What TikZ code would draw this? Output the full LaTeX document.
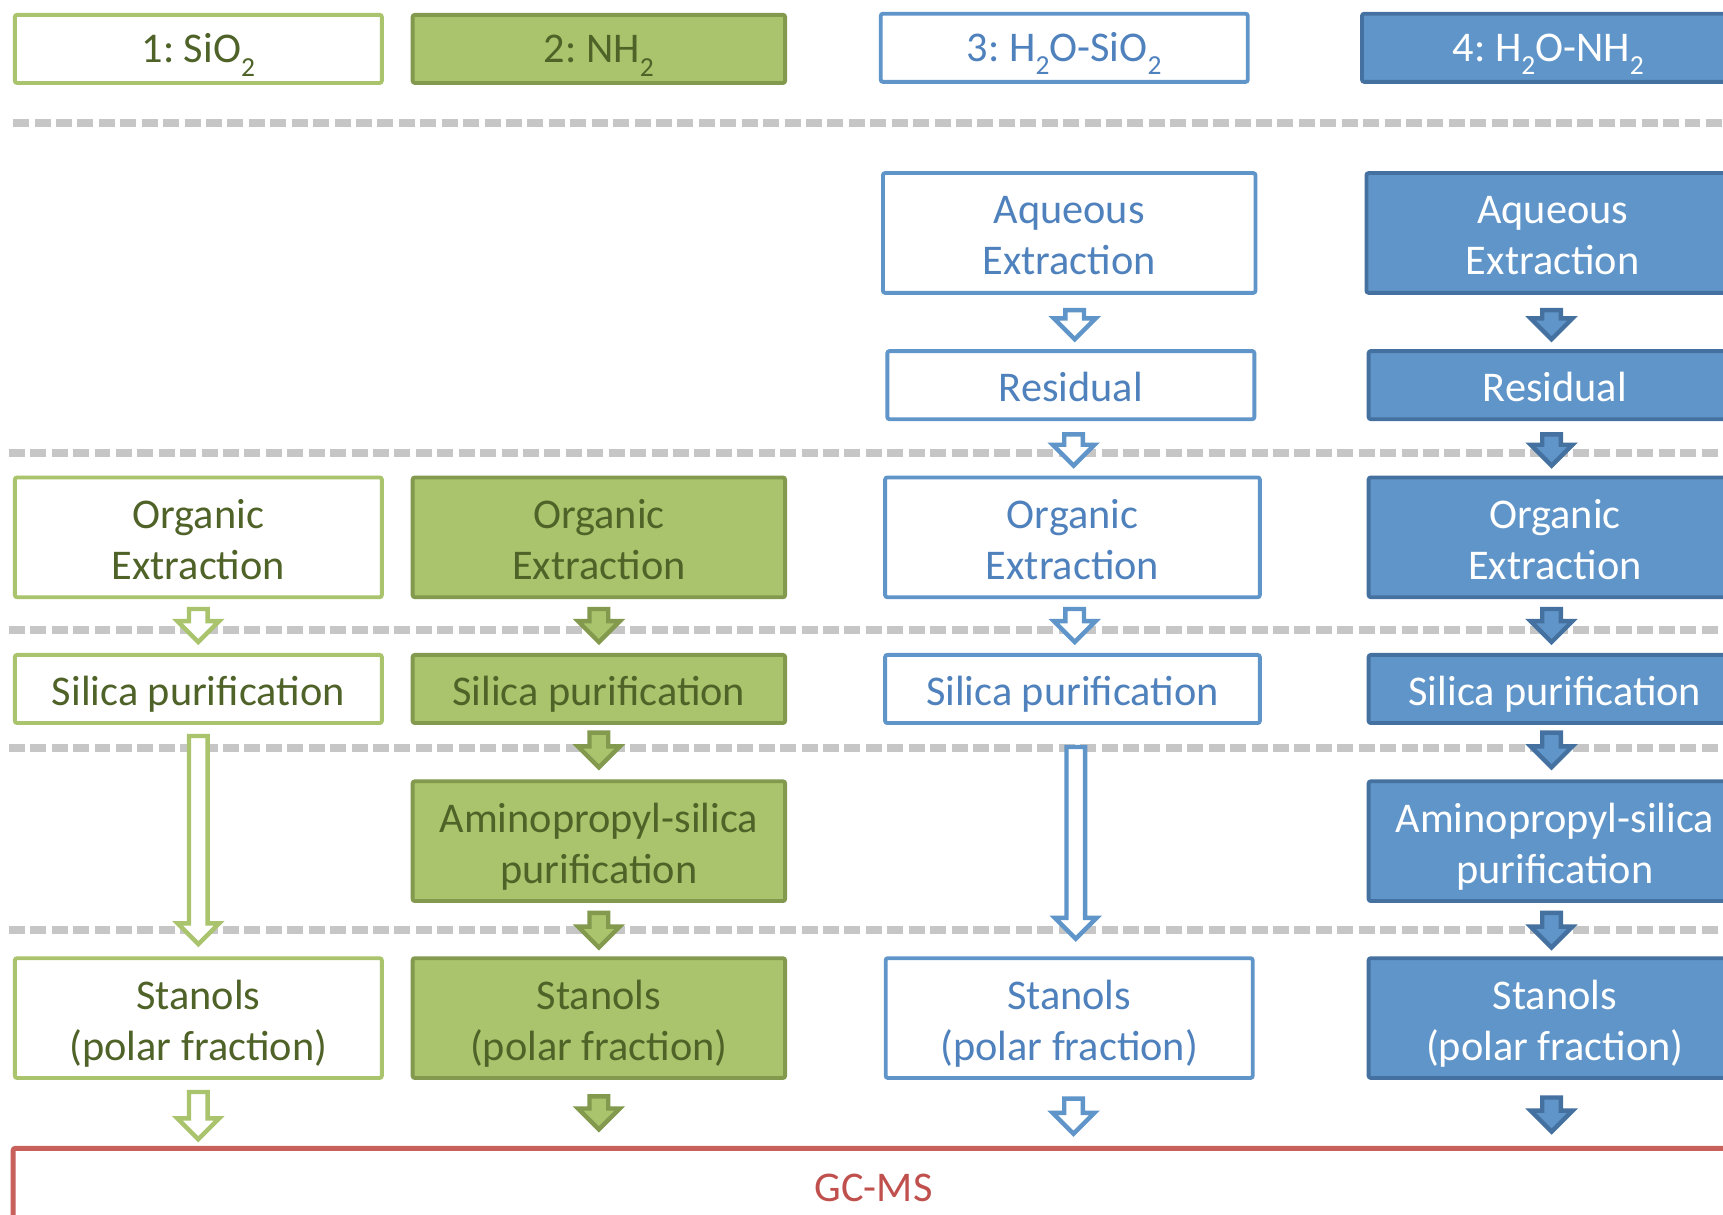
\documentclass[tikz,border=0pt]{standalone}
\usepackage{fontspec}
\setmainfont{Carlito}
\usetikzlibrary{calc}
\frenchspacing
\definecolor{grnL}{HTML}{A9C46C}
\definecolor{grnD}{HTML}{82994E}
\definecolor{txtG}{HTML}{4F6228}
\definecolor{bluL}{HTML}{6095C9}
\definecolor{bluD}{HTML}{4571A0}
\definecolor{txtB}{HTML}{4F81BD}
\definecolor{gcred}{HTML}{C8605C}
\definecolor{gctxt}{HTML}{C0504D}
\definecolor{sepgray}{HTML}{C6C6C6}
\tikzset{
  bx/.style={rectangle, rounded corners=2pt, line width=3.5pt, align=center, inner sep=0pt,
    font=\fontsize{38.5}{46.5}\selectfont},
  c1/.style={bx, draw=grnL, fill=white, text=txtG},
  c2/.style={bx, draw=grnD, fill=grnL, text=txtG},
  c3/.style={bx, draw=bluL, fill=white, text=txtB},
  c4/.style={bx, draw=bluD, fill=bluL, text=white},
  wA/.style={minimum width=334pt},
  wB/.style={minimum width=339pt},
  hS/.style={minimum height=62pt},
  hT/.style={minimum height=109pt},
  a1/.style={draw=grnL, fill=white, line width=4pt},
  a2/.style={draw=grnD, fill=grnL, line width=4pt},
  a3/.style={draw=bluL, fill=white, line width=4pt},
  a4/.style={draw=bluD, fill=bluL, line width=4pt},
  sepline/.style={draw=sepgray, line width=7.5pt, dash pattern=on 14.5pt off 5pt},
}
% text block with uniform line boxes, shifted down like the reference
\newcommand\tx[2][-5.7pt]{\raisebox{#1}[\height][\depth]{\begin{tabular}{@{}c@{}}#2\end{tabular}}}
\newcommand\sbs[1]{\raisebox{-12pt}{\fontsize{25}{25}\selectfont #1}}
% block arrow: [x offset] style, from node, to node, gap below source, gap above target
\newcommand\barrow[6][0]{%
  \path[#2] let \p1=([xshift=#1pt]#3.south), \p2=(#4.north) in
    (\x1-8.5pt,\y1-#5pt) -- (\x1+8.5pt,\y1-#5pt) -- (\x1+8.5pt,\y2+#6pt+19pt)
    -- (\x1+19pt,\y2+#6pt+19pt) -- (\x1,\y2+#6pt) -- (\x1-19pt,\y2+#6pt+19pt)
    -- (\x1-8.5pt,\y2+#6pt+19pt) -- cycle;}
\begin{document}
\begin{tikzpicture}[x=1pt,y=-1pt]
\useasboundingbox (0,0) rectangle (1568,1105);
\clip (0,0) rectangle (1568,1105);
\fill[white] (0,0) rectangle (1568,1105);
% separators
\draw[sepline] (12,112) -- (1568,112);
\draw[sepline] (8,412) -- (1568,412);
\draw[sepline] (8,573) -- (1568,573);
\draw[sepline] (8,681) -- (1568,681);
\draw[sepline] (8,846) -- (1568,846);
% headers
\node[c1, wA, hS] (h1) at (180.5,44.5) {\tx[-3.4pt]{1: SiO\sbs{2}}};
\node[c2, wB, hS] (h2) at (545,44.5) {\tx[-3.4pt]{2: NH\sbs{2}}};
\node[c3, wA, hS] (h3) at (968.5,43.5) {\tx[-3.4pt]{3: H\sbs{2}O-SiO\sbs{2}}};
\node[c4, wB, hS] (h4) at (1409,43.5) {\tx[-3.4pt]{4: H\sbs{2}O-NH\sbs{2}}};
% aqueous
\node[c3, wB, hT] (a3) at (973,212) {\tx{Aqueous\\Extraction}};
\node[c4, wB, hT] (a4) at (1413,212) {\tx{Aqueous\\Extraction}};
% residual
\node[c3, wA, hS] (r3) at (974.5,350.5) {\tx{Residual}};
\node[c4, wB, hS] (r4) at (1415,350.5) {\tx{Residual}};
% organic
\node[c1, wA, hT] (o1) at (180.5,489) {\tx{Organic\\Extraction}};
\node[c2, wB, hT] (o2) at (545,489) {\tx{Organic\\Extraction}};
\node[c3, minimum width=341pt, hT] (o3) at (976,489) {\tx{Organic\\Extraction}};
\node[c4, wB, hT] (o4) at (1415,489) {\tx{Organic\\Extraction}};
% silica
\node[c1, wA, hS] (s1) at (180.5,627) {\tx{Silica purification}};
\node[c2, wB, hS] (s2) at (545,627) {\tx{Silica purification}};
\node[c3, minimum width=341pt, hS] (s3) at (976,627) {\tx{Silica purification}};
\node[c4, wB, hS] (s4) at (1415,627) {\tx{Silica purification}};
% aminopropyl
\node[c2, wB, hT] (m2) at (545,765.5) {\tx{Aminopropyl-silica\\purification}};
\node[c4, wB, hT] (m4) at (1415,765.5) {\tx{Aminopropyl-silica\\purification}};
% stanols
\node[c1, wA, hT] (t1) at (180.5,926.5) {\tx{Stanols\\(polar fraction)}};
\node[c2, wB, hT] (t2) at (545,926.5) {\tx{Stanols\\(polar fraction)}};
\node[c3, wA, hT] (t3) at (973,926.5) {\tx{Stanols\\(polar fraction)}};
\node[c4, wB, hT] (t4) at (1415,926.5) {\tx{Stanols\\(polar fraction)}};
% GC-MS
\node[bx, draw=gcred, fill=white, text=gctxt, line width=4.5pt, minimum width=1566pt, minimum height=66pt] (gc) at (795,1078) {\tx{GC-MS}};
% arrows col 3 and 4 top
\barrow[5]{a3}{a3}{r3}{14}{9}
\barrow[-1]{a4}{a4}{r4}{14}{9}
\barrow[2.5]{a3}{r3}{o3}{12}{9}
\barrow[-3]{a4}{r4}{o4}{12}{9}
% organic -> silica
\barrow{a1}{o1}{s1}{9}{10}
\barrow{a2}{o2}{s2}{9}{10}
\barrow[2]{a3}{o3}{s3}{9}{10}
\barrow[-3]{a4}{o4}{s4}{9}{10}
% silica -> amino / long arrows
\barrow{a1}{s1}{t1}{10}{11}
\barrow{a2}{s2}{m2}{7}{11}
\barrow[3]{a3}{s3}{t3}{20}{16}
\barrow[-3]{a4}{s4}{m4}{7}{11}
% amino -> stanols
\barrow{a2}{m2}{t2}{9}{8}
\barrow[-3]{a4}{m4}{t4}{9}{8}
% stanols -> GC-MS
\barrow{a1}{t1}{gc}{11}{6}
\barrow{a2}{t2}{gc}{15}{15}
\barrow[4]{a3}{t3}{gc}{17}{11}
\barrow[-3]{a4}{t4}{gc}{16}{13}
\end{tikzpicture}
\end{document}
